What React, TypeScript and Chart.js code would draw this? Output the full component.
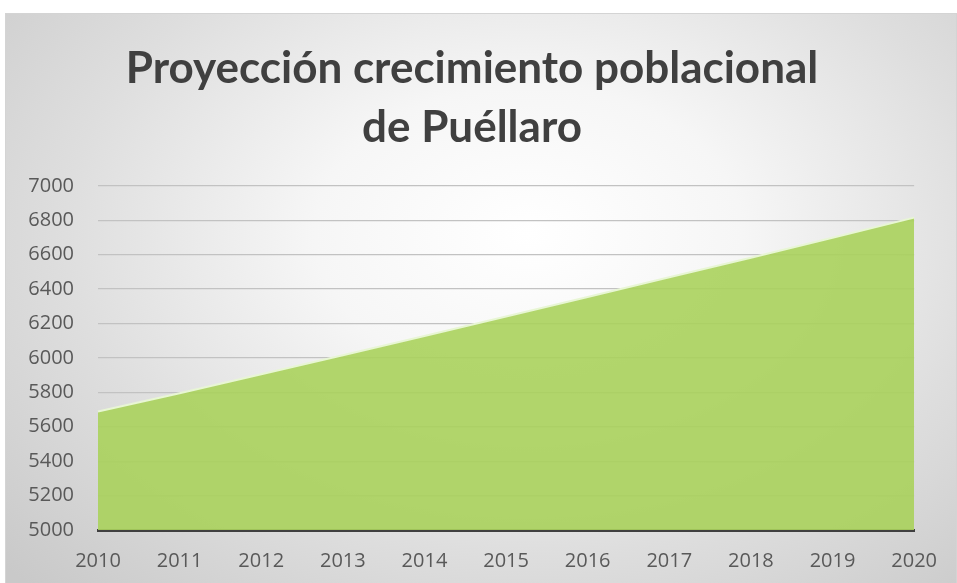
import React, { useEffect, useRef } from "react";
import { Chart, registerables } from "chart.js";

Chart.register(...registerables);

const years = ["2010", "2011", "2012", "2013", "2014", "2015", "2016", "2017", "2018", "2019", "2020"];
const population = [5688, 5795, 5905, 6015, 6127, 6240, 6354, 6469, 6582, 6698, 6815];
const titleLines = ["Proyección crecimiento poblacional", "de Puéllaro"];
const yMin = 5000;
const yMax = 7000;
const yStep = 200;

export default function App() {
  const ref = useRef<HTMLCanvasElement | null>(null);

  useEffect(() => {
    if (!ref.current) return;
    const chart = new Chart(ref.current, {
      type: "line",
      data: {
        labels: years,
        datasets: [
          {
            data: population,
            fill: "origin",
            backgroundColor: "rgba(170,210,92,0.9)",
            borderColor: "rgba(232,246,212,1)",
            borderWidth: 2,
            pointRadius: 0,
            tension: 0,
          },
        ],
      },
      options: {
        animation: false,
        responsive: false,
        maintainAspectRatio: false,
        layout: { padding: { left: 21, right: 39, top: 0, bottom: 0 } },
        plugins: {
          legend: { display: false },
          tooltip: { enabled: false },
          title: {
            display: true,
            text: titleLines,
            color: "#404040",
            font: { family: "Lato", size: 44, weight: "bold", lineHeight: 1.35 },
            padding: { top: 25, bottom: 28 },
          },
        },
        scales: {
          x: {
            offset: false,
            grid: { display: false, drawTicks: false },
            border: { display: true, color: "#404040", width: 3 },
            ticks: {
              color: "#595959",
              font: { family: "Open Sans", size: 20 },
              padding: 19,
              maxRotation: 0,
              autoSkip: false,
            },
          },
          y: {
            min: yMin,
            max: yMax,
            grid: { color: "#c2c2c2", lineWidth: 1.3, drawTicks: false },
            border: { display: false },
            afterFit: (scale: any) => {
              scale.width = 71;
            },
            ticks: {
              stepSize: yStep,
              color: "#595959",
              font: { family: "Open Sans", size: 20 },
              padding: 24,
              callback: (v: any) => String(v),
            },
          },
        },
      },
    });
    return () => chart.destroy();
  }, []);

  return (
    <div
      style={{
        position: "fixed",
        left: 5,
        top: 13,
        width: 952,
        height: 580,
        boxSizing: "border-box",
        border: "1px solid #d4d4d4",
        overflow: "hidden",
        background:
          "radial-gradient(ellipse 75% 85% at 55% 38%, #ffffff 0%, #f6f6f6 30%, #dedede 65%, #c9c9c9 100%)",
      }}
    >
      <canvas ref={ref} width={950} height={578} style={{ display: "block" }} />
    </div>
  );
}
